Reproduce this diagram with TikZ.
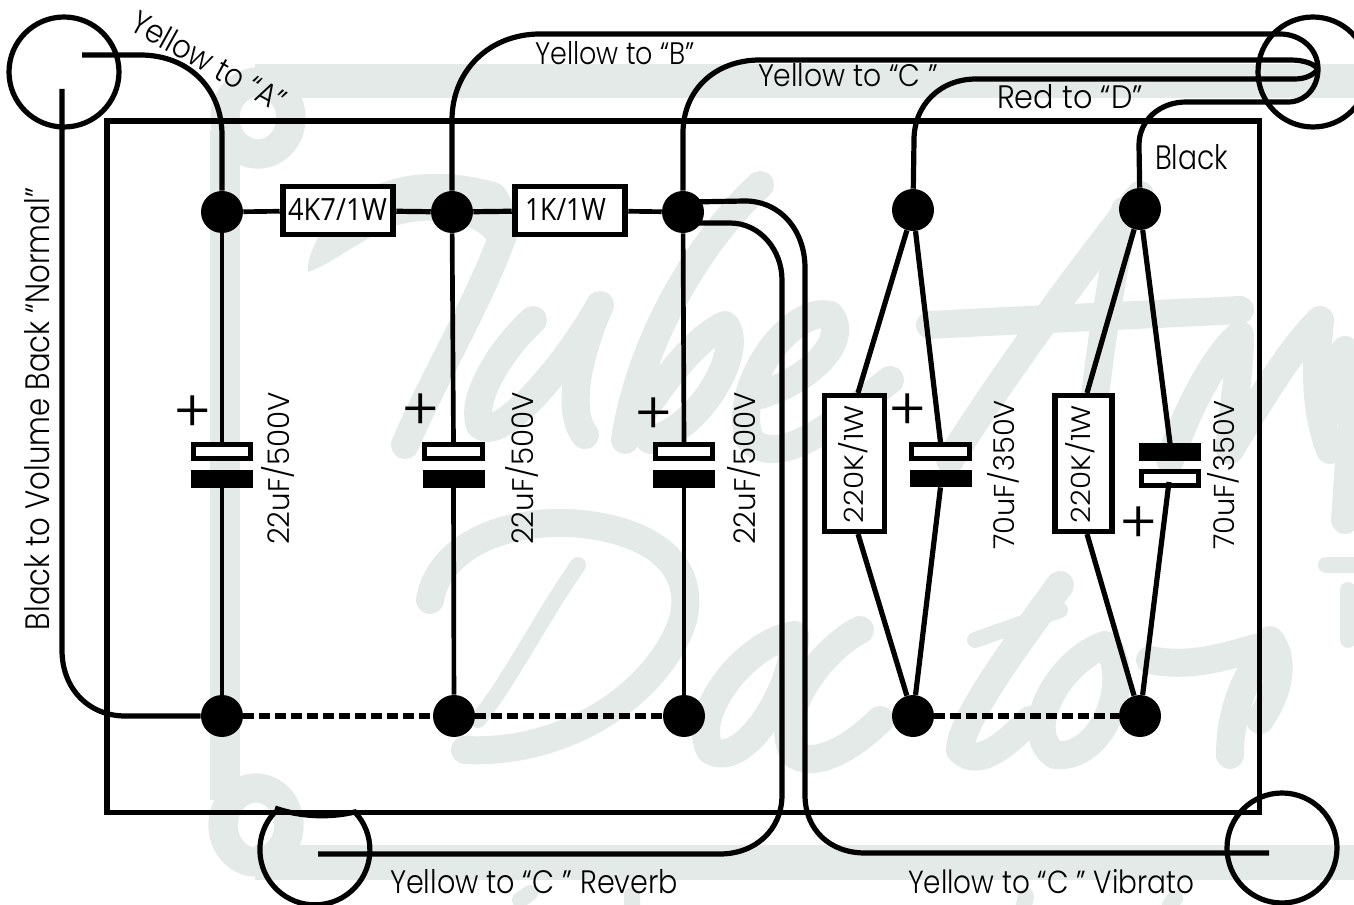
\documentclass[tikz,border=0pt]{standalone}
\usepackage{graphicx}
\usepackage{fontspec}
\setmainfont{Poppins Light}
\newfontfamily\resfont{Open Sans}
\newdimen\pxu \pxu=0.75pt
\newcommand{\fitt}[3]{\resizebox{#1\pxu}{#2\pxu}{#3}}
\definecolor{wmc}{HTML}{E4EAE8}
\tikzset{
  wire/.style={draw=black,line width=3.9pt,line join=round},
  thinwire/.style={draw=black,line width=3.5pt},
  joint/.style={circle,fill=black,inner sep=0pt,minimum size=31.5pt},
  resbox/.style={draw=black,fill=white,line width=4.4pt,inner sep=0pt},
  capopen/.style={draw=black,fill=white,line width=3.6pt,inner sep=0pt,minimum width=43pt,minimum height=10pt},
  capfull/.style={fill=black,inner sep=0pt,minimum width=46.5pt,minimum height=13pt},
  jack/.style={draw=black,line width=3.9pt},
  linkd/.style={draw=black,line width=4.5pt,dash pattern=on 7.7pt off 4.3pt},
  lab/.style={inner sep=0pt,outer sep=0pt,anchor=base west},
  plusmark/.style={inner sep=0pt,outer sep=0pt,font=\fontsize{44}{44}\selectfont},
  wm/.style={draw=wmc,line width=21pt,line cap=round,line join=round},
  wmthin/.style={draw=wmc,line width=12pt,line cap=round,line join=round},
  wmband/.style={fill=wmc}
}
\begin{document}
\begin{tikzpicture}[x=0.75pt,y=-0.75pt]
\useasboundingbox (0,0) rectangle (1354,905);
% watermark
\fill[wmband] (255,64) rectangle (1354,98);
\fill[wmband] (255,845) rectangle (1354,880);
\fill[wmband] (210,130) rectangle (240,800);
\draw[wmc,line width=22pt] (258,118) ellipse [x radius=33,y radius=36];
\draw[wmc,line width=22pt] (256,825) ellipse [x radius=33,y radius=37];
\fill[wmband] (308,272) .. controls (306,250) and (330,210) .. (365,190) .. controls (400,172) and (445,168) .. (498,183) .. controls (512,190) and (516,215) .. (515,237) -- (490,245) .. controls (480,225) and (440,212) .. (391,227) .. controls (360,240) and (330,265) .. (308,272) -- cycle;
\draw[wm] (503,235) .. controls (480,300) and (430,385) .. (405,445);
\draw[wm] (533,320) .. controls (500,350) and (470,400) .. (480,425) .. controls (500,445) and (570,360) .. (600,305) .. controls (580,350) and (565,410) .. (585,435);
\draw[wm] (760,185) .. controls (700,240) and (640,340) .. (625,440) .. controls (650,400) and (690,340) .. (725,325) .. controls (745,350) and (700,430) .. (650,440);
\draw[wm] (760,395) .. controls (810,380) and (850,340) .. (830,315) .. controls (790,305) and (730,390) .. (750,440) .. controls (780,470) and (840,420) .. (890,380);
\draw[wm] (930,325) .. controls (1020,320) and (1140,315) .. (1240,310);
\draw[wm] (1140,195) .. controls (1080,270) and (1000,380) .. (950,460);
\draw[wm] (1125,210) .. controls (1110,290) and (1095,370) .. (1090,455);
\draw[wm] (1170,460) .. controls (1190,400) and (1220,350) .. (1240,335) .. controls (1240,380) and (1230,420) .. (1230,450) .. controls (1260,400) and (1290,350) .. (1320,320) .. controls (1315,370) and (1315,410) .. (1330,450);
\draw[wm] (1345,350) -- (1335,410) (1354,390) -- (1345,520);
\draw[wm] (430,600) .. controls (440,540) and (520,515) .. (590,525) .. controls (660,535) and (695,570) .. (683,620) .. controls (660,690) and (570,755) .. (465,750);
\draw[wmthin] (578,565) .. controls (540,620) and (510,680) .. (478,720);
\draw[wm] (795,635) .. controls (750,640) and (690,710) .. (710,750) .. controls (740,770) and (790,700) .. (795,640);
\draw[wm] (860,630) .. controls (820,650) and (770,720) .. (795,755) .. controls (820,770) and (860,740) .. (880,720);
\draw[wm] (1060,585) .. controls (1020,640) and (960,720) .. (960,750) .. controls (980,770) and (1010,740) .. (1030,720);
\draw[wmthin] (975,640) -- (1060,610);
\draw[wm] (1105,645) .. controls (1060,660) and (1020,730) .. (1055,755) .. controls (1100,760) and (1130,690) .. (1110,650);
\draw[wm] (1150,660) .. controls (1200,670) and (1240,650) .. (1270,645) (1270,645) .. controls (1240,680) and (1230,720) .. (1230,755);
\draw[wm] (1270,640) .. controls (1285,660) and (1280,690) .. (1260,720);
\draw[wmthin] (1326,565) -- (1354,565) (1348,590) -- (1348,640);
\draw[wmthin] (520,900) -- (530,893) (632,895) -- (632,905) (1024,905) -- (1026,896) (1170,905) -- (1175,898);

% chassis
\node[draw=black,line width=3.9pt,inner sep=0pt,minimum width=864.4pt,minimum height=518.6pt] (chassis) at (683.25,466.75) {};

% jacks
\node[jack,circle,inner sep=0pt,minimum size=82.5pt] (jackA) at (64,72) {};
\node[jack,circle,inner sep=0pt,minimum size=82.5pt] (jackB) at (1313,72) {};
\node[jack,circle,inner sep=0pt,minimum size=82.5pt] (jackD) at (1282,848) {};
\coordinate (jackC) at (315,850);
\draw[jack] (275,812) arc[start angle=223.5,end angle=-43.5,radius=55] .. controls (330,818) and (300,817) .. (275,808);

% free ends and route points
\coordinate (endA) at (82,55);
\coordinate (endN) at (62,89);
\coordinate (endT) at (1318,69);
\coordinate (endR) at (318,854);
\coordinate (endV) at (1269,853);

% joints
\node[joint] (t1) at (222,212) {};
\node[joint] (t2) at (452,212) {};
\node[joint] (t3) at (683,212) {};
\node[joint] (t4) at (913,210) {};
\node[joint] (t5) at (1140,209) {};
\node[joint] (b1) at (222,716) {};
\node[joint] (b2) at (454,716) {};
\node[joint] (b3) at (684,716) {};
\node[joint] (b4) at (913,716) {};
\node[joint] (b5) at (1140,716) {};

% wires off board
\draw[wire] (endA) -- (140,55) .. controls (190,55) and (222,90) .. (222,135) -- (t1);
\draw[wire] (endN) -- (62,650) .. controls (62,690) and (90,716) .. (125,716) -- (b1);
\draw[wire] (t2) -- (452,120) .. controls (452,70) and (490,34) .. (540,34) -- (1280,34) .. controls (1300,34) and (1318,48) .. (endT);
\draw[wire] (t3) -- (683,133) .. controls (683,90) and (715,60) .. (760,60) -- (1290,60) .. controls (1305,60) and (1314,64) .. (endT);
\draw[wire] (t4) -- (914,140) .. controls (914,105) and (940,79) .. (976,79) -- (1295,79) .. controls (1305,79) and (1314,75) .. (endT);
\draw[wire] (t5) -- (1139,145) .. controls (1139,120) and (1160,102) .. (1186,102) -- (1288,102) .. controls (1305,102) and (1318,88) .. (endT);
\draw[wire] (690,202) -- (745,201) .. controls (780,201) and (805,230) .. (805,268) -- (805,795) .. controls (805,830) and (830,853) .. (865,853) -- (endV);
\draw[wire] (692,223) -- (730,223) .. controls (760,223) and (782,250) .. (782,280) -- (782,795) .. controls (782,830) and (755,854) .. (720,854) -- (endR);

% resistors
\node[resbox,minimum width=83pt,minimum height=36pt] (r1) at (338,210.5) {};
\node[resbox,minimum width=83pt,minimum height=36pt] (r2) at (570,210.5) {};
\node[resbox,minimum width=45pt,minimum height=102pt] (r3) at (854.5,463.5) {};
\node[resbox,minimum width=43pt,minimum height=102pt] (r4) at (1083.5,463.5) {};
\draw[thinwire] (t1) -- (r1);
\draw[wire] (r1) -- (t2);
\draw[wire] (t2) -- (r2);
\draw[thinwire] (r2) -- (t3);

% capacitors
\node[capopen] (c1o) at (222,451.5) {};
\node[capfull] (c1f) at (222,479) {};
\node[capopen] (c2o) at (453.5,451.5) {};
\node[capfull] (c2f) at (453.5,479) {};
\node[capopen] (c3o) at (684,451.5) {};
\node[capfull] (c3f) at (684,479) {};
\node[capopen] (c4o) at (940.5,451.5) {};
\node[capfull] (c4f) at (940.5,478.5) {};
\node[capfull] (c5f) at (1170,452) {};
\node[capopen] (c5o) at (1170,478.5) {};
\draw[thinwire] (t1) -- (c1o.north);
\draw[thinwire] (c1f.south) -- (b1);
\draw[thinwire] (t2) -- (c2o.north);
\draw[thinwire] (c2f.south) -- (b2);
\draw[thinwire] (t3) -- (c3o.north);
\draw[thinwire] (c3f.south) -- (b3);
\draw[wire] (t4) -- (c4o.north);
\draw[wire] (c4f.south) -- (b4);
\draw[wire] (t5) -- (c5f.north);
\draw[wire] (1169,482) -- (b5);
\draw[wire] (t4) -- (858,393);
\draw[wire] (858,534) -- (b4);
\draw[wire] (t5) -- (1087,393);
\draw[wire] (1087,534) -- (b5);

% ground links
\draw[linkd] (b1) -- (b2);
\draw[linkd] (b2) -- (b3);
\draw[linkd] (b4) -- (b5);

% plus signs
\node[plusmark] (p1) at (193,414) {+};
\node[plusmark] (p2) at (421,412) {+};
\node[plusmark] (p3) at (654,416) {+};
\node[plusmark] (p4) at (908,412) {+};
\node[plusmark] (p5) at (1139,525) {+};

% labels
\node[lab,rotate=-29] (lA) at (128,30) {\fitt{172}{24}{Yellow to “A”}};
\node[lab] (lB) at (535,65) {\fitt{160}{23}{Yellow to “B”}};
\node[lab] (lC) at (758,87) {\fitt{180}{23}{Yellow to “C ”}};
\node[lab] (lD) at (997,109) {\fitt{146}{24}{Red to “D”}};
\node[lab] (lK) at (1155,170) {\fitt{73}{25}{Black}};
\node[lab] (lR) at (390,893) {\fitt{288}{24}{Yellow to “C ” Reverb}};
\node[lab] (lV) at (908,893) {\fitt{286}{24}{Yellow to “C ” Vibrato}};
\node[lab,rotate=90] (lN) at (50,630) {\fitt{442}{25}{Black to Volume Back “Normal”}};
\node[lab,rotate=90] (v1) at (289,545) {\fitt{153}{28}{22uF/500V}};
\node[lab,rotate=90] (v2) at (533,545) {\fitt{153}{28}{22uF/500V}};
\node[lab,rotate=90] (v3) at (755,545) {\fitt{153}{28}{22uF/500V}};
\node[lab,rotate=90] (v4) at (1014,550) {\fitt{150}{27}{70uF/350V}};
\node[lab,rotate=90] (v5) at (1234,550) {\fitt{150}{27}{70uF/350V}};
\node[lab,rotate=90] (v6) at (863,523) {\fitt{118}{25}{220K/1W}};
\node[lab,rotate=90] (v7) at (1090,523) {\fitt{118}{25}{220K/1W}};
\node[lab] (n1) at (288,221) {\fitt{99}{22}{\resfont 4K7/1W}};
\node[lab] (n2) at (525,221) {\fitt{81}{22}{\resfont 1K/1W}};
\end{tikzpicture}
\end{document}
